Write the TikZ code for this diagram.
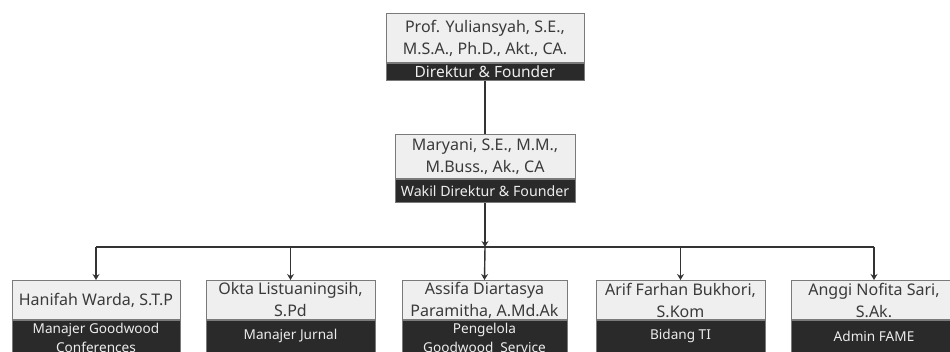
\documentclass[tikz,border=0pt]{standalone}
\usepackage{fontspec}
\setmainfont{Noto Sans}
\usetikzlibrary{arrows.meta,positioning}
\definecolor{lightfill}{HTML}{EFEFEF}
\definecolor{darkfill}{HTML}{2A2A2A}
\definecolor{edgegray}{HTML}{7A7A7A}
\definecolor{txtdark}{HTML}{3A3A3A}
\definecolor{txtlight}{HTML}{EDEDED}
\definecolor{linecol}{HTML}{333333}
\tikzset{
  lightbox/.style={draw=edgegray, line width=1pt, fill=lightfill, text=txtdark,
    inner sep=0pt, anchor=north, align=center, font=\fontsize{16}{22}\selectfont},
  darkbox/.style={draw=edgegray, line width=1pt, fill=darkfill, text=txtlight,
    inner sep=0pt, anchor=north, align=center, font=\fontsize{15.5}{20}\selectfont},
  darktext/.style={text=txtlight, align=center, inner sep=0pt, font=\fontsize{13.6}{19}\selectfont},
  conn/.style={draw=linecol, line width=1.4pt, -{Stealth[length=6pt,width=7pt,inset=2pt]}},
  plain/.style={draw=linecol, line width=1.4pt}
}
\begin{document}
\begin{tikzpicture}[x=1pt,y=-1pt]
\useasboundingbox (0,0) rectangle (950,352);
\clip (0,0) rectangle (950,352);
\fill[white] (0,0) rectangle (950,352);
% top
\node[lightbox, minimum width=198pt, minimum height=49pt] (dir) at (485,13) {Prof. Yuliansyah, S.E.,\\M.S.A., Ph.D., Akt., CA.};
\node[darkbox, minimum width=198pt, minimum height=17pt] (dirr) at (dir.south) {Direktur \& Founder};
% second
\node[lightbox, minimum width=180pt, minimum height=44pt] (wak) at (485,134) {Maryani, S.E., M.M.,\\M.Buss., Ak., CA};
\node[darkbox, minimum width=180pt, minimum height=23pt, font=\fontsize{14.2}{20}\selectfont] (wakr) at (wak.south) {Wakil Direktur \& Founder};
% bottom
\node[lightbox, minimum width=168pt, minimum height=39pt] (b1) at (96,280) {Hanifah Warda, S.T.P};
\node[darkbox, minimum width=168pt, minimum height=50pt] (b1r) at (b1.south) {};
\node[darktext, anchor=north] (b1t) at (96,323) {Manajer Goodwood\\Conferences};
\node[lightbox, minimum width=169pt, minimum height=39pt] (b2) at (290.5,280) {Okta Listuaningsih,\\S.Pd};
\node[darkbox, minimum width=169pt, minimum height=50pt] (b2r) at (b2.south) {};
\node[darktext] (b2t) at (290.5,336) {Manajer Jurnal};
\node[lightbox, minimum width=165pt, minimum height=39pt] (b3) at (484.5,280) {Assifa Diartasya\\Paramitha, A.Md.Ak};
\node[darkbox, minimum width=165pt, minimum height=50pt] (b3r) at (b3.south) {};
\node[darktext, anchor=north] (b3t) at (484.5,323) {Pengelola\\Goodwood\ \ Service};
\node[lightbox, minimum width=169pt, minimum height=39pt] (b4) at (680.5,280) {Arif Farhan Bukhori,\\S.Kom};
\node[darkbox, minimum width=169pt, minimum height=50pt] (b4r) at (b4.south) {};
\node[darktext] (b4t) at (680.5,336) {Bidang TI};
\node[lightbox, minimum width=166pt, minimum height=39pt] (b5) at (874,280) {Anggi Nofita Sari,\\S.Ak.};
\node[darkbox, minimum width=166pt, minimum height=50pt] (b5r) at (b5.south) {};
\node[darktext] (b5t) at (874,336) {Admin FAME};
% connectors
\coordinate (bar) at (485,247);
\coordinate (barL) at (b1.north |- bar);
\coordinate (barR) at (b5.north |- bar);
\path[plain] (dirr.south) -- (wak.north);
\path[conn] (wakr.south) -- (bar);
\path[plain] (barL) -- (barR);
\path[conn] (barL) -- (b1.north);
\path[conn] (b2.north |- bar) -- (b2.north);
\path[conn] (bar) -- (b3.north);
\path[conn] (b4.north |- bar) -- (b4.north);
\path[conn] (barR) -- (b5.north);
\end{tikzpicture}
\end{document}
